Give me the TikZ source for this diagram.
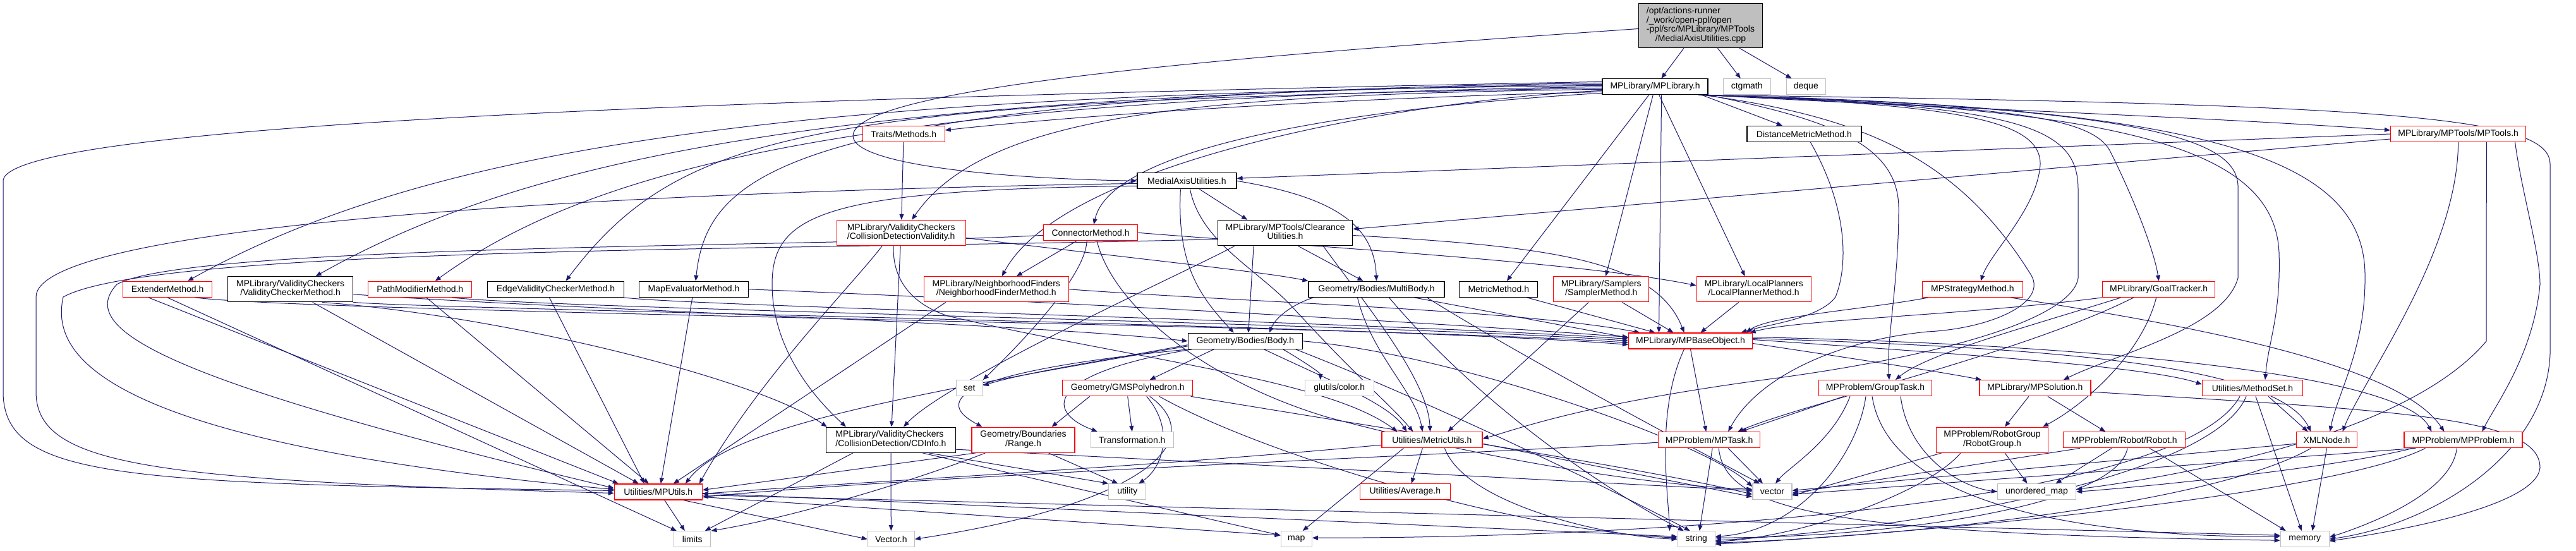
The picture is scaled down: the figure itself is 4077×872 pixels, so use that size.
\documentclass[tikz,border=0pt]{standalone}
\usepackage{fontspec}
\setmainfont{Liberation Sans}
\usetikzlibrary{arrows.meta}
\definecolor{eblue}{HTML}{191970}
\definecolor{lgray}{HTML}{BFBFBF}
\newcommand{\dxtwo}[2]{\begin{tabular}{@{}l@{}}#1\\\multicolumn{1}{@{}c@{}}{#2}\end{tabular}}
\pgfdeclarelayer{bg}
\pgfdeclarelayer{paper}
\pgfsetlayers{paper,bg,main}
\begin{document}
\begin{tikzpicture}[x=1pt,y=-1pt,
  every node/.style={font=\fontsize{14}{14.5}\selectfont, inner sep=0pt, minimum height=25pt},
  nb/.style={draw=black, fill=white, line width=1.3pt},
  nr/.style={draw=red, fill=white, line width=1.3pt},
  ng/.style={draw=lgray, fill=white, line width=1.3pt},
  ntop/.style={draw=black, fill=lgray, line width=1.3pt, minimum height=70pt},
  two/.style={minimum height=40pt},
  edg/.style={draw=eblue, line width=1pt, -{Triangle[length=9pt,width=7pt]}}]
\begin{pgfonlayer}{paper}
\fill[white] (0,0) rectangle (4077,872);
\end{pgfonlayer}
\useasboundingbox (0,0) rectangle (4077,872);
% ---------- nodes ----------
\node[ntop, minimum width=196] (top) at (2691.5,40.5) {\begin{tabular}{@{}l@{}}/opt/actions-runner\\/\_work/open-ppl/open\\-ppl/src/MPLibrary/MPTools\\\multicolumn{1}{@{}c@{}}{/MedialAxisUtilities.cpp}\end{tabular}};
\node[nb, minimum width=167] (mplib) at (2619.6,137.3) {MPLibrary/MPLibrary.h};
\node[ng, minimum width=75] (ctgmath) at (2764.7,137.3) {ctgmath};
\node[ng, minimum width=62] (deque) at (2858.3,137.3) {deque};
\node[nr, minimum width=130] (traits) at (1430.2,212) {Traits/Methods.h};
\node[nb, minimum width=181] (dmm) at (2855.4,212) {DistanceMetricMethod.h};
\node[nr, minimum width=214] (mptools) at (3890.6,212) {MPLibrary/MPTools/MPTools.h};
\node[nb, minimum width=157] (mau) at (1878.4,286.3) {MedialAxisUtilities.h};
\node[nr, two, minimum width=204] (cdv) at (1426.2,368.5) {\dxtwo{MPLibrary/ValidityCheckers}{/CollisionDetectionValidity.h}};
\node[nr, minimum width=149] (conn) at (1726.1,368.3) {ConnectorMethod.h};
\node[nb, two, minimum width=213] (clear) at (2034.1,368.5) {\dxtwo{MPLibrary/MPTools/Clearance}{Utilities.h}};
\node[nr, minimum width=141] (ext) at (265.1,457.8) {ExtenderMethod.h};
\node[nb, two, minimum width=198] (vcm) at (459.6,457.8) {\dxtwo{MPLibrary/ValidityCheckers}{/ValidityCheckerMethod.h}};
\node[nr, minimum width=164] (pmm) at (664.8,457.8) {PathModifierMethod.h};
\node[nb, minimum width=216] (evc) at (879.5,457.8) {EdgeValidityCheckerMethod.h};
\node[nb, minimum width=173] (mem) at (1098,457.8) {MapEvaluatorMethod.h};
\node[nr, two, minimum width=229] (nfm) at (1576.8,457.8) {\dxtwo{MPLibrary/NeighborhoodFinders}{/NeighborhoodFinderMethod.h}};
\node[nb, minimum width=215] (multibody) at (2178.5,457.8) {Geometry/Bodies/MultiBody.h};
\node[nb, minimum width=124] (metricm) at (2371.8,457.8) {MetricMethod.h};
\node[nr, two, minimum width=151] (sampler) at (2534.3,457.8) {\dxtwo{MPLibrary/Samplers}{/SamplerMethod.h}};
\node[nr, two, minimum width=181] (lp) at (2775.7,457.8) {\dxtwo{MPLibrary/LocalPlanners}{/LocalPlannerMethod.h}};
\node[nr, minimum width=159] (strat) at (3121.9,457.8) {MPStrategyMethod.h};
\node[nr, minimum width=178] (goal) at (3416.7,457.8) {MPLibrary/GoalTracker.h};
\node[nb, minimum width=181] (body) at (1970.8,539.8) {Geometry/Bodies/Body.h};
\node[nr, minimum width=196] (base) at (2675.5,539.5) {MPLibrary/MPBaseObject.h};
\node[ng, minimum width=42] (set) at (1534.2,614.2) {set};
\node[nr, minimum width=206] (gms) at (1784.7,614.2) {Geometry/GMSPolyhedron.h};
\node[ng, minimum width=109] (color) at (2119.7,614.2) {glutils/color.h};
\node[nr, minimum width=179] (group) at (2968,614.2) {MPProblem/GroupTask.h};
\node[nr, minimum width=176] (mpsol) at (3220.9,614.2) {MPLibrary/MPSolution.h};
\node[nr, minimum width=159] (methodset) at (3565,614.2) {Utilities/MethodSet.h};
\node[nb, two, minimum width=205] (cdinfo) at (1410,696.2) {\dxtwo{MPLibrary/ValidityCheckers}{/CollisionDetection/CDInfo.h}};
\node[nr, two, minimum width=163] (range) at (1619.5,696.2) {\dxtwo{Geometry/Boundaries}{/Range.h}};
\node[ng, minimum width=131] (transf) at (1791.8,696.2) {Transformation.h};
\node[nr, minimum width=159] (metricutils) at (2266.4,696.2) {Utilities/MetricUtils.h};
\node[nr, minimum width=161] (mptask) at (2705.2,696.2) {MPProblem/MPTask.h};
\node[nr, two, minimum width=177] (robotgroup) at (3153,696.2) {\dxtwo{MPProblem/RobotGroup}{/RobotGroup.h}};
\node[nr, minimum width=193] (robot) at (3362.1,696.2) {MPProblem/Robot/Robot.h};
\node[nr, minimum width=96] (xml) at (3682.5,696.2) {XMLNode.h};
\node[nr, minimum width=187] (mpprob) at (3898.4,696.2) {MPProblem/MPProblem.h};
\node[nr, minimum width=139] (mputils) at (1041.8,778.5) {Utilities/MPUtils.h};
\node[ng, minimum width=59] (utility) at (1784.3,778.3) {utility};
\node[nr, minimum width=143] (average) at (2223.8,778.3) {Utilities/Average.h};
\node[ng, minimum width=62] (vector) at (2805,778.3) {vector};
\node[ng, minimum width=124] (unmap) at (3223.5,778.3) {unordered\_map};
\node[ng, minimum width=58] (limits) at (1095.8,853.2) {limits};
\node[ng, minimum width=74] (vectorh) at (1410.3,853.2) {Vector.h};
\node[ng, minimum width=49] (map) at (2051.7,853.2) {map};
\node[ng, minimum width=59] (string) at (2684.7,853.2) {string};
\node[ng, minimum width=77] (memory) at (3647.7,853.2) {memory};
% ---------- edges ----------
\begin{pgfonlayer}{bg}
% top
\draw[edg] (top) -- (mplib);
\draw[edg] (top) -- (ctgmath);
\draw[edg] (top) -- (deque);
\draw[edg] ([yshift=-5]top.west) .. controls (2100,80) and (1350,130) .. (1350,215) .. controls (1350,258) and (1560,282) .. (mau.west);
% mplib left fan
\draw[edg] ([yshift=-8]mplib.west) .. controls (2150,155) and (1750,178) .. ([yshift=6]traits.east);
\draw[edg] ([yshift=-4]mplib.west) .. controls (1900,150) and (1560,178) .. ([xshift=17]cdv.north);
\draw[edg] ([yshift=-10]mplib.west) .. controls (2150,170) and (1760,230) .. ([xshift=5]conn.north);
\draw[edg] ([yshift=-6]mplib.west) .. controls (2200,160) and (1680,260) .. ([xshift=9]nfm.north);
\draw[edg] ([yshift=2]mplib.west) .. controls (1300,148) and (700,220) .. ([xshift=32]ext.north);
\draw[edg] ([yshift=4]mplib.west) .. controls (1350,150) and (850,240) .. ([xshift=40]vcm.north);
\draw[edg] (mplib.west) .. controls (1400,155) and (950,255) .. ([xshift=24]pmm.north);
\draw[edg] ([yshift=-2]mplib.west) .. controls (1300,160) and (1080,200) .. ([xshift=16]evc.north);
\draw[edg] ([yshift=6]mplib.west) .. controls (1250,150) and (1120,270) .. ([xshift=3]mem.north);
\draw[edg] ([yshift=8]mplib.west) .. controls (1200,155) and (20,195) .. (5,285) -- (5,620) .. controls (5,760) and (200,765) .. ([yshift=2]mputils.west);
% mplib down
\draw[edg] ([xshift=-10]mplib.south east) -- (dmm);
\draw[edg] (mplib) -- ([xshift=13]metricm.north);
\draw[edg] (mplib) -- ([xshift=7]sampler.north);
\draw[edg] (mplib) -- ([xshift=-14]lp.north);
\draw[edg] ([xshift=10]mplib.south) -- ([xshift=-50]base.north);
% mplib right fan (leaves bottom-right corner, below ctgmath/deque)
\draw[edg] ([xshift=-2]mplib.south east) .. controls (3000,168) and (3500,185) .. ([yshift=6]mptools.west);
\draw[edg] ([xshift=-4]mplib.south east) .. controls (3100,166) and (3230,190) .. (3229,260) .. controls (3225,330) and (3150,400) .. ([xshift=13]strat.north);
\draw[edg] ([xshift=-6]mplib.south east) .. controls (3150,168) and (3310,180) .. (3340,240) .. controls (3380,320) and (3410,400) .. (goal.north);
\draw[edg] (mplib.south east) .. controls (2900,190) and (3005,230) .. (3005,330) .. controls (3005,450) and (2985,540) .. ([xshift=22]group.north);
\draw[edg] ([xshift=-8]mplib.south east) .. controls (2950,185) and (3100,250) .. (3215,436) .. controls (3240,480) and (3150,520) .. (3050,525) .. controls (2900,540) and (2780,600) .. ([xshift=30]mptask.north);
\draw[edg] ([xshift=-10]mplib.south east) .. controls (3200,166) and (3289,200) .. (3289,300) -- (3289,440) .. controls (3280,500) and (3100,560) .. (2800,600) .. controls (2500,640) and (2400,680) .. ([yshift=2]metricutils.east);
\draw[edg] ([xshift=-12]mplib.south east) .. controls (3350,170) and (3600,230) .. (3607,400) .. controls (3610,500) and (3590,540) .. ([xshift=20]methodset.north);
\draw[edg] ([xshift=-14]mplib.south east) .. controls (3500,168) and (3740,250) .. (3743,433) .. controls (3745,550) and (3700,620) .. ([xshift=5]xml.north);
\draw[edg] ([xshift=-16]mplib.south east) .. controls (3450,170) and (3545,230) .. (3542,300) -- (3542,440) .. controls (3520,520) and (3350,560) .. ([xshift=45]mpsol.north);
\draw[edg] ([xshift=-1]mplib.south east) .. controls (3800,165) and (4036,185) .. (4036,260) -- (4036,560) .. controls (4030,720) and (3850,830) .. (memory.east);
% traits, mptools, dmm
\draw[edg] (traits) -- (cdv);
\draw[edg] (mptools.west) -- ([yshift=4]mau.east);
\draw[edg] ([yshift=-8]mptools.west) -- ([yshift=6]clear.east);
\draw[edg] (mptools.south) .. controls (3890,400) and (3740,600) .. ([xshift=25]xml.north);
\draw[edg] ([xshift=45]mptools.south) .. controls (3935,300) and (3935,500) .. (3935,540) .. controls (3800,700) and (3400,760) .. ([yshift=4]unmap.east);
\draw[edg] ([xshift=90]mptools.south) .. controls (3990,300) and (4020,400) .. (4020,450) .. controls (4010,560) and (3950,640) .. ([xshift=30]mpprob.north);
\draw[edg] ([xshift=10]dmm.south) .. controls (2925,330) and (2925,420) .. (2905,470) .. controls (2880,505) and (2790,515) .. ([xshift=80]base.north);
% mau
\draw[edg] ([xshift=20]mau.south) -- ([xshift=-60]clear.north);
\draw[edg] ([xshift=-10]mau.south) .. controls (1862,420) and (1900,470) .. ([xshift=-18]body.north);
\draw[edg] (mau.east) .. controls (2100,310) and (2175,350) .. (multibody.north);
\draw[edg] ([yshift=-4]mau.west) .. controls (900,305) and (57,360) .. (57,470) -- (57,620) .. controls (57,740) and (250,760) .. ([yshift=-2]mputils.west);
\draw[edg] ([yshift=-8]mau.west) .. controls (1300,300) and (1222,340) .. (1222,450) .. controls (1222,560) and (1300,640) .. ([xshift=-71]cdinfo.north);
\draw[edg] ([xshift=5]mau.south) .. controls (1900,380) and (1980,420) .. (2040,480) .. controls (2150,600) and (2200,640) .. ([xshift=-30]metricutils.north);
% cdv
\draw[edg] (cdv) -- (cdinfo);
\draw[edg] ([yshift=-8]cdv.east) .. controls (1800,410) and (2000,430) .. (multibody.north west);
\draw[edg] ([xshift=-30]cdv.south) .. controls (1350,450) and (1200,600) .. ([xshift=65]mputils.north);
\draw[edg] ([xshift=-12]cdv.south) .. controls (1412,440) and (1440,480) .. (1500,500) .. controls (1800,570) and (2100,600) .. ([xshift=-55]metricutils.north);
% conn
\draw[edg] (conn.east) .. controls (2100,392) and (2500,415) .. ([yshift=6]lp.west);
\draw[edg] (conn) -- ([xshift=32]nfm.north);
\draw[edg] ([xshift=-6]conn.south) .. controls (1718,430) and (1640,520) .. (set.north east);
\draw[edg] ([yshift=-4]conn.west) .. controls (1300,392) and (300,385) .. (185,450) .. controls (120,520) and (250,600) .. ([yshift=6]mputils.west);
\draw[edg] ([xshift=10]conn.south) .. controls (1760,480) and (1900,600) .. (2100,660) .. controls (2400,740) and (2650,770) .. ([yshift=4]vector.west);
% clear
\draw[edg] ([xshift=-50]clear.south) -- ([xshift=5]body.north);
\draw[edg] ([xshift=20]clear.south) -- ([xshift=-21]multibody.north);
\draw[edg] ([yshift=-4]clear.east) .. controls (2450,390) and (2620,410) .. ([xshift=-10]base.north);
\draw[edg] ([xshift=60]clear.south) .. controls (2160,480) and (2260,600) .. ([xshift=-3]metricutils.north);
\draw[edg] ([xshift=-80]clear.south) .. controls (1900,420) and (1500,600) .. ([xshift=20]cdinfo.north);
\draw[edg] ([yshift=-10]clear.west) .. controls (1300,396) and (250,388) .. (100,470) .. controls (80,560) and (150,700) .. ([yshift=4]mputils.west);
% left row
\draw[edg] ([xshift=44]ext.south) .. controls (500,495) and (2200,515) .. ([yshift=-3]base.west);
\draw[edg] ([xshift=-30]ext.south) -- ([xshift=-63]mputils.north);
\draw[edg] (ext.south) -- ([xshift=-25]limits.north);
\draw[edg] (vcm.south east) .. controls (700,490) and (2200,515) .. ([yshift=-6]base.west);
\draw[edg] ([xshift=35]vcm.south) -- ([xshift=-31]mputils.north);
\draw[edg] ([xshift=50]vcm.south) .. controls (800,500) and (1200,600) .. ([xshift=2]cdinfo.north west);
\draw[edg] ([yshift=-8]vcm.east) .. controls (900,490) and (1600,510) .. (body.west);
\draw[edg] ([xshift=50]pmm.south) .. controls (900,490) and (2200,512) .. (base.west);
\draw[edg] ([xshift=10]pmm.south) -- ([xshift=-15]mputils.north);
\draw[edg] (evc.south east) .. controls (1100,485) and (2200,510) .. ([yshift=3]base.west);
\draw[edg] ([xshift=-10]evc.south) -- ([xshift=-22]mputils.north);
\draw[edg] (mem.east) .. controls (1500,470) and (2200,505) .. ([yshift=6]base.west);
\draw[edg] (mem) -- ([xshift=4]mputils.north);
\draw[edg] (nfm.east) .. controls (2000,480) and (2400,490) .. ([xshift=-80]base.north);
\draw[edg] ([xshift=-80]nfm.south) -- ([xshift=24]mputils.north);
% multibody, metric, sampler, lp
\draw[edg] ([xshift=-100]multibody.south) .. controls (2050,480) and (2020,500) .. ([xshift=38]body.north);
\draw[edg] ([xshift=60]multibody.south) -- ([yshift=5]base.west);
\draw[edg] ([xshift=20]multibody.south) .. controls (2350,650) and (2550,780) .. ([xshift=-20]string.north);
\draw[edg] ([xshift=80]multibody.south) .. controls (2400,560) and (2700,720) .. ([xshift=-20]vector.north);
\draw[edg] ([xshift=-30]multibody.south) .. controls (2170,560) and (2240,620) .. ([xshift=-15]metricutils.north);
\draw[edg] ([xshift=45]metricm.south) -- ([xshift=-56]base.north);
\draw[edg] ([xshift=33]sampler.south) -- ([xshift=-27]base.north);
\draw[edg] ([xshift=-20]sampler.south) -- ([xshift=25]metricutils.north);
\draw[edg] ([xshift=-24]lp.south) -- ([xshift=16]base.north);
% strat, goal
\draw[edg] ([xshift=-70]strat.south) .. controls (2950,490) and (2800,500) .. ([xshift=88]base.north);
\draw[edg] ([xshift=60]strat.south) .. controls (3500,520) and (3800,580) .. ([xshift=-30]mpprob.north);
\draw[edg] (goal.south west) .. controls (3100,500) and (2850,505) .. ([xshift=94]base.north);
\draw[edg] ([xshift=-60]goal.south) .. controls (3200,520) and (3050,560) .. ([xshift=32]group.north);
\draw[edg] ([xshift=-40]goal.south) .. controls (3200,560) and (2850,640) .. ([xshift=45]mptask.north);
\draw[edg] ([xshift=-4]goal.south) .. controls (3390,560) and (3300,640) .. ([xshift=80]robotgroup.north);
% body
\draw[edg] ([xshift=-50]body.south) -- ([xshift=35]gms.north);
\draw[edg] ([yshift=-6]body.west) .. controls (1750,570) and (1620,590) .. ([yshift=4]set.east);
\draw[edg] ([xshift=60]body.south) .. controls (2060,570) and (2090,590) .. ([xshift=-30]color.north);
\draw[edg] (body.south west) .. controls (1600,580) and (1450,620) .. ([xshift=-65]range.north);
\draw[edg] ([xshift=-85]body.south) .. controls (1660,590) and (1650,650) .. ([xshift=-55]transf.north);
\draw[edg] ([yshift=-8]body.west) .. controls (1400,630) and (1150,680) .. ([xshift=43]mputils.north);
\draw[edg] ([xshift=30]body.south) .. controls (2100,600) and (2200,640) .. ([xshift=-40]metricutils.north);
\draw[edg] (body.east) .. controls (2300,560) and (2700,700) .. ([yshift=8]vector.west);
\draw[edg] ([xshift=80]body.south) .. controls (2300,650) and (2600,800) .. ([xshift=-10]string.north);
% base
\draw[edg] (base.south) -- ([xshift=-5]mptask.north);
\draw[edg] ([xshift=-10]base.south) .. controls (2620,650) and (2640,780) .. ([xshift=-12]string.north west);
\draw[edg] ([yshift=-4]base.east) .. controls (2950,570) and (3080,590) .. ([xshift=-85]mpsol.north);
\draw[edg] ([yshift=2]base.east) .. controls (3100,560) and (3400,580) .. ([yshift=6]methodset.west);
\draw[edg] ([yshift=4]base.east) .. controls (3200,550) and (3600,570) .. ([xshift=-25]xml.north);
\draw[edg] ([yshift=6]base.east) .. controls (3300,545) and (3800,590) .. ([xshift=-50]mpprob.north);
% gms
\draw[edg] ([xshift=-60]gms.south) -- ([xshift=45]range.north);
\draw[edg] (gms.south) -- (transf.north);
\draw[edg] ([xshift=30]gms.south) .. controls (1860,680) and (1840,740) .. ([xshift=18]utility.north);
\draw[edg] ([xshift=35]gms.south) .. controls (1920,700) and (1800,800) .. (vectorh.east);
\draw[edg] ([xshift=100]gms.south) .. controls (2200,680) and (2600,740) .. ([yshift=-4]vector.west);
\draw[edg] ([xshift=50]gms.south) .. controls (2000,720) and (2400,840) .. ([yshift=2]string.west);
% group, mpsol, methodset
\draw[edg] ([xshift=-50]group.south) -- ([xshift=50]mptask.north);
\draw[edg] ([xshift=-40]group.south) .. controls (2900,700) and (2830,740) .. ([xshift=5]vector.north);
\draw[edg] ([xshift=-15]group.south) .. controls (2940,720) and (2850,840) .. ([yshift=4]string.east);
\draw[edg] ([xshift=-5]group.south) .. controls (2990,800) and (3300,850) .. ([yshift=4]memory.west);
\draw[edg] ([xshift=40]group.south) .. controls (3020,720) and (3100,770) .. (unmap.west);
\draw[edg] ([xshift=-10]mpsol.south) -- ([xshift=20]robotgroup.north);
\draw[edg] ([xshift=20]mpsol.south) -- ([xshift=-30]robot.north);
\draw[edg] ([yshift=-6]mpsol.east) .. controls (3800,650) and (4020,660) .. (4020,740) .. controls (4015,800) and (3800,840) .. ([yshift=-3]memory.east);
\draw[edg] ([xshift=25]methodset.south) -- ([xshift=-30]xml.north);
\draw[edg] ([xshift=5]methodset.south) -- ([xshift=-5]memory.north);
\draw[edg] ([xshift=-10]methodset.south) .. controls (3500,760) and (3000,840) .. ([yshift=-2]string.east);
\draw[edg] ([xshift=-20]methodset.south) .. controls (3450,800) and (2600,852) .. ([yshift=2]map.east);
% cdinfo, range
\draw[edg] ([xshift=-60]cdinfo.south) -- ([xshift=20]limits.north);
\draw[edg] (cdinfo) -- (vectorh);
\draw[edg] ([xshift=60]cdinfo.south) -- (utility.north west);
\draw[edg] ([xshift=50]cdinfo.south) -- ([yshift=6]map.west);
\draw[edg] ([yshift=-15]cdinfo.east) -- ([yshift=2]vector.west);
\draw[edg] ([xshift=40]range.south) -- ([xshift=-15]utility.north);
\draw[edg] ([xshift=-60]range.south) .. controls (1450,760) and (1250,820) .. (limits.north east);
\draw[edg] ([xshift=-75]range.south) -- ([yshift=3]mputils.east);
% metricutils, mptask
\draw[edg] ([xshift=-15]metricutils.south) -- ([xshift=10]average.north);
\draw[edg] ([xshift=-45]metricutils.south) -- ([xshift=10]map.north);
\draw[edg] ([xshift=20]metricutils.south) .. controls (2320,800) and (2550,850) .. (string.west);
\draw[edg] ([yshift=-6]metricutils.east) -- ([yshift=-8]vector.west);
\draw[edg] ([yshift=-8]metricutils.west) .. controls (1800,740) and (1400,760) .. ([yshift=-3]mputils.east);
\draw[edg] ([xshift=30]mptask.south) -- ([xshift=-15]vector.north);
\draw[edg] ([xshift=5]mptask.south) -- ([xshift=5]string.north);
\draw[edg] ([xshift=15]mptask.south) .. controls (2730,810) and (2900,845) .. ([yshift=-2]memory.west);
\draw[edg] ([yshift=-4]mptask.west) .. controls (2300,720) and (1500,750) .. ([yshift=-8]mputils.east);
% robotgroup, robot, xml, mpprob
\draw[edg] ([xshift=20]robotgroup.south) -- ([xshift=-15]unmap.north);
\draw[edg] ([xshift=-80]robotgroup.south) -- ([yshift=-6]vector.east);
\draw[edg] ([xshift=-50]robotgroup.south) .. controls (3050,780) and (2850,850) .. ([yshift=-4]string.east);
\draw[edg] ([xshift=-20]robot.south) -- ([xshift=30]unmap.north);
\draw[edg] ([xshift=40]robot.south) -- ([xshift=-30]memory.north);
\draw[edg] ([xshift=5]robot.south) .. controls (3350,800) and (3000,850) .. ([yshift=2]string.east);
\draw[edg] ([xshift=-70]robot.south) -- ([yshift=-2]vector.east);
\draw[edg] ([yshift=-6]xml.west) -- ([yshift=2]vector.east);
\draw[edg] (xml.south) -- ([xshift=12]memory.north);
\draw[edg] ([xshift=-25]xml.south) .. controls (3500,800) and (3000,850) .. ([yshift=-6]string.east);
\draw[edg] ([xshift=-80]mpprob.south) .. controls (3700,740) and (3400,770) .. (unmap.east);
\draw[edg] ([xshift=-10]mpprob.south) .. controls (3880,780) and (3750,830) .. ([yshift=3]memory.east);
\draw[edg] ([xshift=-60]mpprob.south) .. controls (3700,780) and (3100,840) .. ([yshift=-8]string.east);
\draw[edg] ([xshift=-75]mpprob.south) -- ([yshift=-4]vector.east);
% mputils
\draw[edg] ([xshift=10]mputils.south) -- ([xshift=-12]limits.north);
\draw[edg] ([xshift=40]mputils.south) -- (vectorh.west);
\draw[edg] ([yshift=-8]mputils.east) -- ([yshift=6]map.west);
\draw[edg] ([yshift=-2]mputils.east) -- ([yshift=4]string.west);
\draw[edg] ([yshift=-5]mputils.east) -- ([yshift=6]memory.west);
\end{pgfonlayer}
\end{tikzpicture}
\end{document}
